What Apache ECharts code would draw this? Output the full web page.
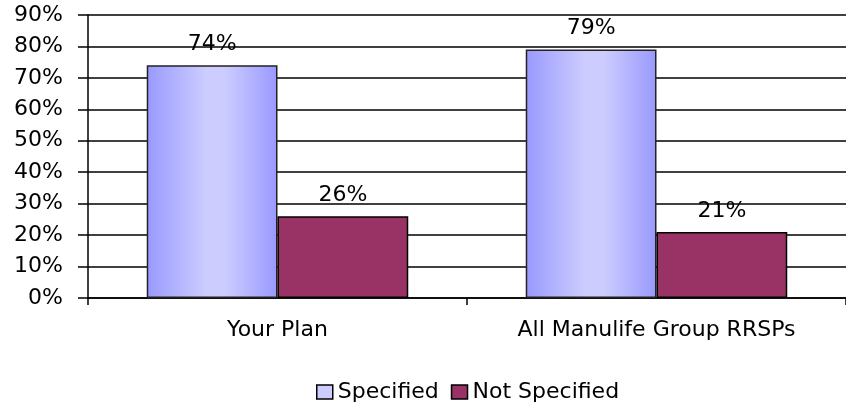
<!DOCTYPE html>
<html><head><meta charset="utf-8">
<script src="https://cdn.jsdelivr.net/npm/echarts@6/dist/echarts.min.js"></script>
<style>html,body{margin:0;padding:0;background:#fff}#c{width:846px;height:404px}</style>
</head><body><div id="c"></div>
<script>
const categories = ["Your Plan", "All Manulife Group RRSPs"];
const specified = [74, 79];
const notSpecified = [26, 21];
const yTicks = [0, 10, 20, 30, 40, 50, 60, 70, 80, 90];

const font = "'DejaVu Sans', Verdana, sans-serif";
const fs = 22;
const chart = echarts.init(document.getElementById('c'));
const blueGrad = new echarts.graphic.LinearGradient(0, 0, 1, 0, [
  {offset: 0, color: '#9999FF'},
  {offset: 0.45, color: '#CCCCFF'},
  {offset: 0.6, color: '#CCCCFF'},
  {offset: 1, color: '#9999FF'}
]);
chart.setOption({
  animation: false,
  textStyle: {fontFamily: font},
  grid: {left: 88, top: 15, bottom: 106, right: -8, containLabel: false},
  legend: {
    top: 376, left: 311,
    icon: 'rect', itemWidth: 16, itemHeight: 14, itemGap: 12,
    textStyle: {fontFamily: font, fontSize: fs, color: '#000'},
    data: [
      {name: 'Specified', itemStyle: {color: '#CCCCFF', borderColor: '#000', borderWidth: 1.5}},
      {name: 'Not Specified', itemStyle: {color: '#993366', borderColor: '#000', borderWidth: 1.5}}
    ]
  },
  xAxis: {
    type: 'category', data: categories,
    axisLine: {lineStyle: {color: '#000', width: 1.5}},
    axisTick: {show: true, length: 7, lineStyle: {color: '#000', width: 1.5}},
    axisLabel: {color: '#000', fontSize: fs, margin: 21, fontFamily: font}
  },
  yAxis: {
    type: 'value', min: 0, max: 90, interval: 10,
    axisLine: {show: true, lineStyle: {color: '#000', width: 1.5}},
    axisTick: {show: true, length: 10, lineStyle: {color: '#000', width: 1.5}},
    splitLine: {lineStyle: {color: '#000', width: 1.5}},
    axisLabel: {color: '#000', fontSize: fs, margin: 25, fontFamily: font,
      formatter: v => yTicks.includes(v) ? v + '%' : ''}
  },
  series: [
    {name: 'Specified', type: 'bar', data: specified, barGap: '0%', barCategoryGap: '31%',
      itemStyle: {color: blueGrad, borderColor: '#222', borderWidth: 1.5},
      label: {show: true, position: 'top', distance: 10, color: '#000', fontSize: fs, fontFamily: font, formatter: '{c}%'}},
    {name: 'Not Specified', type: 'bar', data: notSpecified,
      itemStyle: {color: '#993366', borderColor: '#000', borderWidth: 1.5},
      label: {show: true, position: 'top', distance: 10, color: '#000', fontSize: fs, fontFamily: font, formatter: '{c}%'}}
  ]
});
</script></body></html>
